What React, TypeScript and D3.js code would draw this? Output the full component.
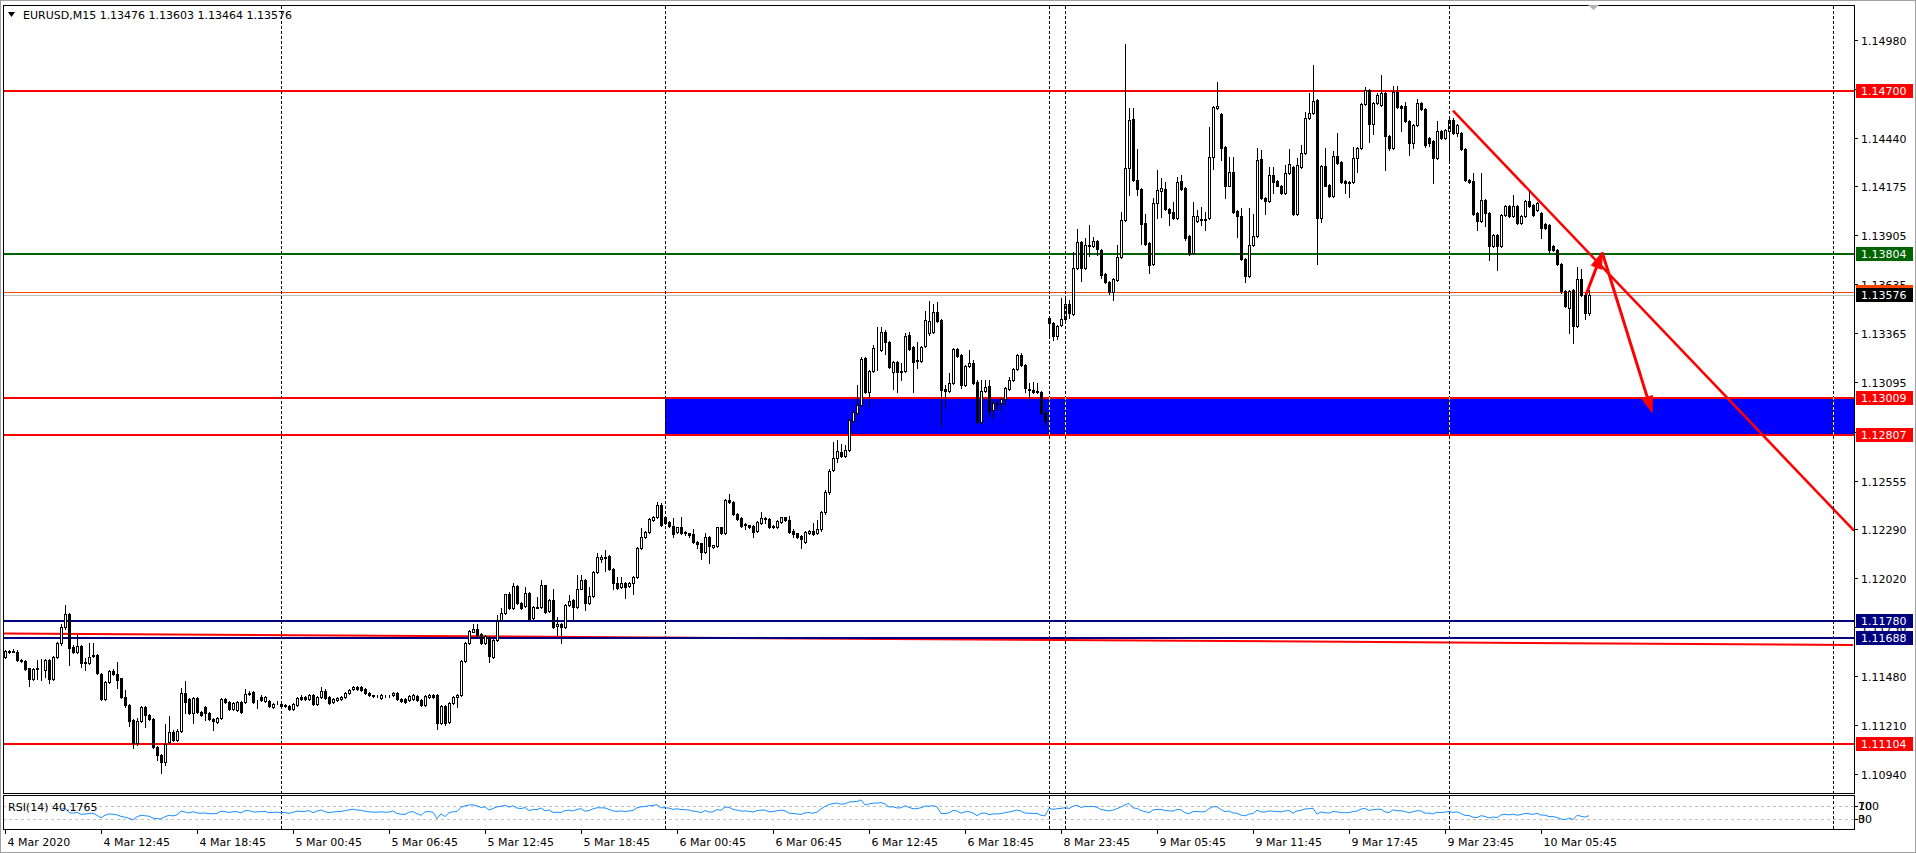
import * as d3 from 'd3';
import { useEffect, useRef } from 'react';

// EURUSD M15 bars, [open, high, low, close]
// 4 Mar 06:45 .. 23:45
const mar4 = [
  [1.11586,1.11623,1.11580,1.11619],[1.11619,1.11624,1.11608,1.11614],[1.11614,1.11626,1.11609,1.11619],[1.11614,1.11620,1.11564,1.11568],
  [1.11568,1.11572,1.11558,1.11562],[1.11564,1.11568,1.11512,1.11518],[1.11522,1.11526,1.11425,1.11463],[1.11465,1.11523,1.11459,1.11518],
  [1.11520,1.11568,1.11463,1.11522],[1.11522,1.11572,1.11458,1.11524],[1.11513,1.11572,1.11472,1.11568],[1.11568,1.11572,1.11439,1.11461],
  [1.11461,1.11588,1.11456,1.11582],[1.11582,1.11668,1.11576,1.11659],[1.11659,1.11765,1.11652,1.11748],[1.11748,1.11870,1.11740,1.11821],
  [1.11821,1.11828,1.11540,1.11636],[1.11641,1.11648,1.11605,1.11610],[1.11614,1.11705,1.11608,1.11645],[1.11645,1.11650,1.11530,1.11549],
  [1.11552,1.11576,1.11513,1.11559],[1.11549,1.11659,1.11543,1.11586],[1.11590,1.11659,1.11586,1.11595],[1.11595,1.11600,1.11488,1.11494],
  [1.11491,1.11496,1.11345,1.11351],[1.11351,1.11453,1.11345,1.11448],[1.11447,1.11513,1.11442,1.11507],[1.11507,1.11516,1.11485,1.11491],
  [1.11491,1.11557,1.11412,1.11458],[1.11466,1.11471,1.11360,1.11366],[1.11366,1.11403,1.11311,1.11320],[1.11320,1.11325,1.11204,1.11234],
  [1.11237,1.11243,1.11081,1.11109],[1.11109,1.11249,1.11102,1.11234],[1.11234,1.11313,1.11228,1.11307],[1.11307,1.11312,1.11201,1.11265],
  [1.11265,1.11270,1.11235,1.11241],[1.11241,1.11247,1.11085,1.11091],[1.11091,1.11096,1.11017,1.11045],[1.11045,1.11050,1.10944,1.11008],
  [1.11008,1.11215,1.10990,1.11105],[1.11118,1.11260,1.11112,1.11173],[1.11173,1.11180,1.11120,1.11127],[1.11127,1.11185,1.11121,1.11179],
  [1.11179,1.11412,1.11173,1.11384],[1.11388,1.11453,1.11274,1.11338],[1.11355,1.11360,1.11272,1.11278],[1.11278,1.11363,1.11219,1.11357],
  [1.11357,1.11362,1.11274,1.11280],[1.11280,1.11286,1.11259,1.11265],[1.11311,1.11316,1.11237,1.11274],[1.11274,1.11279,1.11235,1.11241],
  [1.11241,1.11246,1.11182,1.11234],[1.11228,1.11253,1.11223,1.11247],[1.11247,1.11359,1.11241,1.11353],[1.11353,1.11360,1.11330,1.11335],
  [1.11338,1.11343,1.11293,1.11298],[1.11298,1.11335,1.11293,1.11329],[1.11292,1.11340,1.11287,1.11335],[1.11335,1.11340,1.11278,1.11283],
  [1.11338,1.11406,1.11333,1.11380],[1.11380,1.11395,1.11375,1.11388],[1.11390,1.11395,1.11330,1.11335],[1.11344,1.11350,1.11302,1.11340],
  [1.11366,1.11375,1.11342,1.11347],[1.11344,1.11370,1.11339,1.11362],[1.11342,1.11347,1.11309,1.11314],[1.11311,1.11330,1.11306,1.11325],
  [1.11329,1.11340,1.11324,1.11333],
];

const mar5 = [
  [1.11324,1.11329,1.11310,1.11314],[1.11316,1.11325,1.11311,1.11320],[1.11314,1.11319,1.11291,1.11296],[1.11300,1.11329,1.11295,1.11324],
  [1.11320,1.11365,1.11315,1.11360],[1.11366,1.11375,1.11346,1.11351],[1.11364,1.11369,1.11346,1.11351],[1.11355,1.11383,1.11350,1.11375],
  [1.11375,1.11380,1.11320,1.11325],[1.11325,1.11371,1.11320,1.11366],[1.11366,1.11417,1.11361,1.11397],[1.11397,1.11408,1.11355,1.11360],
  [1.11366,1.11371,1.11328,1.11333],[1.11338,1.11356,1.11333,1.11351],[1.11347,1.11365,1.11342,1.11360],[1.11355,1.11371,1.11350,1.11366],
  [1.11366,1.11389,1.11361,1.11384],[1.11388,1.11408,1.11383,1.11403],[1.11406,1.11426,1.11401,1.11421],[1.11421,1.11426,1.11401,1.11406],
  [1.11417,1.11422,1.11398,1.11403],[1.11406,1.11411,1.11379,1.11384],[1.11384,1.11389,1.11370,1.11375],[1.11373,1.11376,1.11366,1.11371],
  [1.11371,1.11374,1.11364,1.11369],[1.11357,1.11380,1.11352,1.11375],[1.11371,1.11376,1.11364,1.11369],[1.11369,1.11376,1.11364,1.11371],
  [1.11375,1.11393,1.11370,1.11388],[1.11384,1.11389,1.11348,1.11353],[1.11355,1.11360,1.11337,1.11342],[1.11351,1.11356,1.11333,1.11338],
  [1.11347,1.11374,1.11342,1.11369],[1.11351,1.11380,1.11346,1.11375],[1.11371,1.11376,1.11342,1.11347],[1.11347,1.11352,1.11315,1.11320],
  [1.11320,1.11376,1.11315,1.11371],[1.11366,1.11380,1.11361,1.11375],[1.11375,1.11380,1.11361,1.11366],[1.11375,1.11380,1.11186,1.11219],
  [1.11219,1.11319,1.11214,1.11314],[1.11314,1.11319,1.11210,1.11223],[1.11228,1.11334,1.11223,1.11329],[1.11329,1.11371,1.11324,1.11366],
  [1.11362,1.11380,1.11310,1.11375],[1.11375,1.11569,1.11370,1.11564],[1.11564,1.11664,1.11559,1.11659],[1.11659,1.11732,1.11654,1.11727],
  [1.11724,1.11766,1.11719,1.11738],[1.11738,1.11766,1.11700,1.11705],[1.11711,1.11716,1.11654,1.11659],[1.11659,1.11705,1.11654,1.11700],
  [1.11696,1.11701,1.11559,1.11590],[1.11586,1.11683,1.11581,1.11678],[1.11678,1.11815,1.11673,1.11784],[1.11787,1.11851,1.11782,1.11824],
  [1.11824,1.11933,1.11819,1.11928],[1.11928,1.11943,1.11846,1.11851],[1.11851,1.11989,1.11846,1.11974],[1.11974,1.11979,1.11874,1.11879],
  [1.11879,1.11884,1.11850,1.11855],[1.11864,1.11971,1.11859,1.11934],[1.11934,1.11939,1.11788,1.11793],[1.11796,1.11862,1.11791,1.11857],
  [1.11861,1.11916,1.11852,1.11855],[1.11861,1.12007,1.11856,1.11978],[1.11978,1.11983,1.11828,1.11833],[1.11838,1.11902,1.11833,1.11897],
  [1.11897,1.11961,1.11745,1.11750],[1.11754,1.11805,1.11705,1.11765],[1.11765,1.11770,1.11659,1.11747],[1.11750,1.11875,1.11745,1.11870],
  [1.11870,1.11925,1.11865,1.11892],[1.11897,1.11902,1.11787,1.11857],[1.11861,1.12035,1.11856,1.11961],[1.11961,1.12035,1.11956,1.12007],
  [1.12007,1.12012,1.11842,1.11883],[1.11883,1.11971,1.11878,1.11919],[1.11921,1.12056,1.11916,1.12051],[1.12053,1.12154,1.12048,1.12136],
  [1.12125,1.12145,1.12108,1.12132],[1.12136,1.12172,1.12059,1.12127],[1.12139,1.12144,1.12061,1.12066],[1.12070,1.12075,1.11961,1.11989],
  [1.11989,1.12026,1.11960,1.11965],[1.11967,1.12026,1.11962,1.11993],[1.11993,1.11998,1.11906,1.11971],[1.11976,1.11998,1.11971,1.11993],
  [1.11993,1.12031,1.11928,1.12026],[1.12026,1.12187,1.12021,1.12182],[1.12182,1.12292,1.12177,1.12246],[1.12242,1.12277,1.12237,1.12272],
  [1.12273,1.12348,1.12268,1.12343],[1.12338,1.12361,1.12333,1.12356],[1.12356,1.12439,1.12351,1.12420],[1.12420,1.12429,1.12305,1.12310],
];

const mar6 = [
  [1.12352,1.12357,1.12318,1.12323],[1.12325,1.12330,1.12301,1.12306],[1.12306,1.12347,1.12246,1.12259],[1.12270,1.12302,1.12265,1.12297],
  [1.12297,1.12352,1.12263,1.12268],[1.12272,1.12277,1.12255,1.12264],[1.12264,1.12269,1.12246,1.12255],[1.12259,1.12286,1.12210,1.12215],
  [1.12216,1.12221,1.12182,1.12205],[1.12209,1.12214,1.12121,1.12163],[1.12163,1.12264,1.12158,1.12246],[1.12246,1.12251,1.12103,1.12194],
  [1.12191,1.12203,1.12186,1.12198],[1.12194,1.12302,1.12189,1.12297],[1.12297,1.12302,1.12263,1.12268],[1.12268,1.12453,1.12263,1.12448],
  [1.12448,1.12480,1.12430,1.12435],[1.12435,1.12440,1.12366,1.12371],[1.12371,1.12376,1.12338,1.12343],[1.12347,1.12352,1.12301,1.12306],
  [1.12314,1.12319,1.12286,1.12308],[1.12308,1.12313,1.12296,1.12301],[1.12306,1.12311,1.12246,1.12273],[1.12279,1.12333,1.12274,1.12328],
  [1.12323,1.12380,1.12318,1.12347],[1.12343,1.12356,1.12319,1.12350],[1.12343,1.12348,1.12292,1.12297],[1.12297,1.12310,1.12292,1.12305],
  [1.12297,1.12339,1.12292,1.12334],[1.12328,1.12357,1.12323,1.12352],[1.12352,1.12357,1.12333,1.12338],[1.12338,1.12360,1.12265,1.12270],
  [1.12277,1.12286,1.12246,1.12259],[1.12264,1.12269,1.12241,1.12246],[1.12250,1.12255,1.12182,1.12231],[1.12218,1.12277,1.12213,1.12272],
  [1.12268,1.12284,1.12263,1.12279],[1.12279,1.12319,1.12256,1.12261],[1.12264,1.12338,1.12259,1.12286],[1.12286,1.12390,1.12275,1.12380],
  [1.12380,1.12505,1.12370,1.12490],[1.12490,1.12620,1.12480,1.12610],[1.12613,1.12769,1.12605,1.12677],[1.12677,1.12778,1.12659,1.12718],
  [1.12714,1.12756,1.12685,1.12690],[1.12692,1.12751,1.12687,1.12723],[1.12723,1.12898,1.12718,1.12888],[1.12885,1.12936,1.12880,1.12931],
  [1.12929,1.13081,1.12924,1.12969],[1.12969,1.13237,1.12964,1.13224],[1.13228,1.13237,1.13039,1.13044],[1.13044,1.13165,1.12967,1.13160],
  [1.13160,1.13301,1.13155,1.13283],[1.13283,1.13402,1.13164,1.13285],[1.13274,1.13402,1.13269,1.13371],[1.13371,1.13384,1.13252,1.13316],
  [1.13316,1.13321,1.13173,1.13182],[1.13154,1.13211,1.13059,1.13206],[1.13206,1.13211,1.13044,1.13151],[1.13154,1.13200,1.13108,1.13160],
  [1.13158,1.13365,1.13153,1.13351],[1.13356,1.13375,1.13272,1.13277],[1.13288,1.13293,1.13044,1.13209],[1.13217,1.13319,1.13173,1.13211],
  [1.13215,1.13297,1.13209,1.13292],[1.13297,1.13488,1.13292,1.13439],[1.13365,1.13542,1.13356,1.13435],[1.13371,1.13525,1.13366,1.13481],
  [1.13481,1.13540,1.13430,1.13435],[1.13439,1.13444,1.12857,1.13053],[1.13059,1.13080,1.12953,1.13048],[1.13048,1.13145,1.13043,1.13094],
  [1.13090,1.13283,1.13085,1.13277],[1.13281,1.13286,1.13236,1.13241],[1.13246,1.13251,1.13063,1.13081],[1.13081,1.13191,1.13076,1.13186],
  [1.13186,1.13274,1.13182,1.13200],[1.13204,1.13219,1.13089,1.13094],[1.13096,1.13108,1.12874,1.12879],[1.12879,1.13108,1.12874,1.13048],
  [1.13048,1.13108,1.13043,1.13070],[1.13075,1.13108,1.12907,1.12939],[1.12943,1.12998,1.12898,1.12980],[1.12976,1.12998,1.12943,1.12982],
  [1.12980,1.13009,1.12943,1.13004],[1.13004,1.13068,1.12971,1.13063],[1.13059,1.13127,1.13054,1.13108],[1.13108,1.13173,1.13103,1.13167],
  [1.13167,1.13251,1.13162,1.13246],[1.13246,1.13255,1.13186,1.13191],[1.13191,1.13196,1.13044,1.13063],[1.13061,1.13090,1.12998,1.13053],
  [1.13053,1.13099,1.13039,1.13044],[1.13048,1.13090,1.13036,1.13041],[1.13041,1.13046,1.12920,1.12925],[1.12925,1.12943,1.12861,1.12885],
];

// Sunday open, 8 Mar 23:00 .. 23:45
const mar8 = [
  [1.13448,1.13461,1.13338,1.13420],[1.13424,1.13429,1.13329,1.13351],[1.13351,1.13413,1.13332,1.13408],[1.13409,1.13558,1.13404,1.13446],
];

const mar9 = [
  [1.13446,1.13558,1.13441,1.13525],[1.13527,1.13549,1.13448,1.13475],[1.13470,1.13815,1.13465,1.13727],[1.13727,1.13940,1.13722,1.13867],
  [1.13867,1.13872,1.13654,1.13727],[1.13723,1.13889,1.13718,1.13852],[1.13852,1.13962,1.13793,1.13846],[1.13848,1.13895,1.13843,1.13874],
  [1.13874,1.13879,1.13797,1.13830],[1.13824,1.13829,1.13672,1.13687],[1.13690,1.13695,1.13641,1.13646],[1.13650,1.13655,1.13580,1.13595],
  [1.13595,1.13670,1.13549,1.13665],[1.13661,1.13852,1.13656,1.13784],[1.13784,1.14035,1.13779,1.13989],[1.13989,1.14958,1.13984,1.14274],
  [1.14274,1.14604,1.14127,1.14538],[1.14544,1.14608,1.14203,1.14208],[1.14208,1.14380,1.14127,1.14158],[1.14158,1.14163,1.13856,1.13969],
  [1.13971,1.14021,1.13852,1.13857],[1.13861,1.13866,1.13696,1.13742],[1.13745,1.14109,1.13740,1.14081],[1.14081,1.14265,1.13999,1.14155],
  [1.14151,1.14223,1.14004,1.14164],[1.14160,1.14201,1.14043,1.14048],[1.14048,1.14053,1.13962,1.14030],[1.14032,1.14090,1.13997,1.14002],
  [1.13999,1.14228,1.13994,1.14201],[1.14204,1.14237,1.14155,1.14160],[1.14164,1.14169,1.13880,1.13892],[1.13901,1.13906,1.13796,1.13801],
  [1.13806,1.14090,1.13801,1.14012],[1.13986,1.14045,1.13981,1.14012],[1.13995,1.14063,1.13962,1.13989],[1.13989,1.14035,1.13934,1.13995],
  [1.14002,1.14503,1.13997,1.14336],[1.14336,1.14617,1.14270,1.14612],[1.14604,1.14751,1.14599,1.14617],[1.14571,1.14576,1.14322,1.14384],
  [1.14391,1.14396,1.14109,1.14179],[1.14179,1.14338,1.14174,1.14256],[1.14256,1.14338,1.14030,1.14035],[1.14041,1.14046,1.13894,1.14012],
  [1.14013,1.14054,1.13768,1.13773],[1.13775,1.13780,1.13650,1.13683],[1.13683,1.14054,1.13678,1.13852],[1.13852,1.14021,1.13847,1.13903],
  [1.13903,1.14384,1.13898,1.14320],[1.14323,1.14375,1.14104,1.14109],[1.14112,1.14117,1.14021,1.14096],[1.14096,1.14279,1.14091,1.14237],
  [1.14237,1.14283,1.14140,1.14201],[1.14204,1.14209,1.14174,1.14179],[1.14179,1.14184,1.14131,1.14136],[1.14140,1.14292,1.14135,1.14246],
  [1.14246,1.14379,1.14241,1.14296],[1.14283,1.14288,1.14016,1.14021],[1.14024,1.14329,1.14019,1.14292],[1.14283,1.14402,1.14278,1.14358],
  [1.14357,1.14586,1.14352,1.14549],[1.14549,1.14690,1.14544,1.14577],[1.14577,1.14843,1.14572,1.14645],[1.14650,1.14655,1.13745,1.13999],
  [1.13999,1.14292,1.13980,1.14287],[1.14287,1.14384,1.14174,1.14179],[1.14182,1.14187,1.14118,1.14123],[1.14123,1.14369,1.14118,1.14342],
  [1.14342,1.14467,1.14296,1.14301],[1.14311,1.14316,1.14191,1.14201],[1.14204,1.14209,1.14136,1.14195],[1.14191,1.14206,1.14118,1.14201],
  [1.14197,1.14390,1.14192,1.14329],[1.14329,1.14389,1.14256,1.14384],[1.14384,1.14631,1.14379,1.14626],[1.14626,1.14724,1.14621,1.14705],
  [1.14705,1.14710,1.14421,1.14516],[1.14518,1.14640,1.14460,1.14633],[1.14633,1.14690,1.14628,1.14679],[1.14624,1.14789,1.14619,1.14689],
  [1.14689,1.14694,1.14266,1.14450],[1.14450,1.14455,1.14375,1.14386],[1.14386,1.14729,1.14381,1.14694],[1.14694,1.14725,1.14606,1.14611],
  [1.14615,1.14620,1.14477,1.14606],[1.14615,1.14637,1.14528,1.14533],[1.14533,1.14538,1.14349,1.14413],[1.14413,1.14519,1.14386,1.14514],
  [1.14514,1.14655,1.14509,1.14633],[1.14633,1.14638,1.14595,1.14600],[1.14600,1.14605,1.14391,1.14404],[1.14441,1.14446,1.14399,1.14413],
  [1.14422,1.14427,1.14193,1.14331],[1.14331,1.14533,1.14326,1.14477],[1.14477,1.14482,1.14436,1.14441],[1.14441,1.14492,1.14436,1.14487],
];

// 10 Mar 00:00 .. 08:45
const mar10 = [
  [1.14477,1.14547,1.14322,1.14542],[1.14542,1.14551,1.14463,1.14468],[1.14468,1.14519,1.14450,1.14514],[1.14468,1.14473,1.14375,1.14380],
  [1.14380,1.14385,1.14202,1.14208],[1.14208,1.14213,1.14192,1.14197],[1.14202,1.14248,1.14019,1.14024],[1.14028,1.14033,1.13936,1.13982],
  [1.13982,1.14248,1.13977,1.14101],[1.14101,1.14106,1.13958,1.14028],[1.14028,1.14033,1.13771,1.13844],[1.13844,1.13914,1.13839,1.13909],
  [1.13909,1.13914,1.13716,1.13844],[1.13844,1.14022,1.13839,1.14017],[1.14017,1.14070,1.14012,1.14065],[1.14065,1.14070,1.14005,1.14010],
  [1.14010,1.14129,1.14005,1.14065],[1.14065,1.14070,1.13968,1.13973],[1.13973,1.14015,1.13968,1.14010],[1.14010,1.14097,1.14005,1.14092],
  [1.14092,1.14147,1.14060,1.14065],[1.14070,1.14075,1.14010,1.14015],[1.14046,1.14088,1.14041,1.14083],[1.14028,1.14033,1.13890,1.13945],
  [1.13969,1.13974,1.13940,1.13945],[1.13964,1.13969,1.13808,1.13826],[1.13844,1.13849,1.13821,1.13826],[1.13826,1.13831,1.13744,1.13749],
  [1.13749,1.13754,1.13588,1.13597],[1.13600,1.13605,1.13509,1.13514],[1.13505,1.13605,1.13367,1.13600],[1.13606,1.13611,1.13312,1.13404],
  [1.13404,1.13731,1.13399,1.13665],[1.13665,1.13720,1.13573,1.13578],[1.13578,1.13583,1.13444,1.13477],[1.13476,1.13603,1.13464,1.13576],
];

const timeLabels = ['4 Mar 2020', '4 Mar 12:45', '4 Mar 18:45', '5 Mar 00:45', '5 Mar 06:45', '5 Mar 12:45', '5 Mar 18:45',
  '6 Mar 00:45', '6 Mar 06:45', '6 Mar 12:45', '6 Mar 18:45', '8 Mar 23:45', '9 Mar 05:45', '9 Mar 11:45', '9 Mar 17:45',
  '9 Mar 23:45', '10 Mar 05:45'];
const timeLabelBars = [0, 24, 48, 72, 96, 120, 144, 168, 192, 216, 240, 264, 288, 312, 336, 360, 384];
const daySeparatorBars = [69, 165, 261, 265, 361, 457];
const priceTicks = [1.14980, 1.14710, 1.14440, 1.14175, 1.13905, 1.13635, 1.13365, 1.13095, 1.12825, 1.12555,
  1.12290, 1.12020, 1.11750, 1.11480, 1.11210, 1.10940];

const redLevels = [1.14700, 1.13009, 1.12807, 1.11104];
const navyLevels = [1.11780, 1.11688];
const greenLevels = [1.13804];
const orangeLevel = 1.13595;
const bidPrice = 1.13576;
const zone = { startBar: 165, top: 1.13015, bottom: 1.12807 };
const trendLine = [[362, 1.14591], [462, 1.12285]];
const supportLine = [[0, 1.11714], [462, 1.11650]];
const arrowUp = [[395.25, 1.13578], [399.3, 1.13811]];
const arrowDown = [[399.3, 1.13811], [411.75, 1.12930]];
const rsiLevels = [70, 30];
const rsiAxisValues = [100, 70, 30, 0];
const headerText = 'EURUSD,M15  1.13476 1.13603 1.13464 1.13576';
const rsiText = 'RSI(14) 40.1765';

const W = 1916;
const H = 853;
const FONT = '"DejaVu Sans", Tahoma, sans-serif';

const App = () => {
  const ref = useRef<SVGSVGElement>(null);

  useEffect(() => {
    if (!ref.current) return;
    const svg = d3.select(ref.current);
    svg.selectAll('*').remove();

    const bars = [...mar4, ...mar5, ...mar6, ...mar8, ...mar9, ...mar10];
    const left = 3, right = 1854, top = 5, bottom = 793;
    const rsiTop = 795, rsiBottom = 829;

    const x = d3.scaleLinear().domain([0, 396]).range([5, 1589]);
    const y = d3.scaleLinear().domain([1.10940, 1.14980]).range([774, 40]);
    const ry = d3.scaleLinear().domain([0, 100]).range([rsiBottom, rsiTop + 1]);
    const fmt = d3.format('.5f');
    const px = (v: number) => Math.round(v) + 0.5;

    svg.append('rect').attr('width', W).attr('height', H).attr('fill', '#fff');
    svg.append('rect').attr('x', 0.5).attr('y', 0.5).attr('width', W - 1).attr('height', H - 1)
      .attr('fill', 'none').attr('stroke', '#a0a0a0');

    const defs = svg.append('defs');
    defs.append('clipPath').attr('id', 'main-clip').append('rect')
      .attr('x', left + 1).attr('y', top + 1).attr('width', right - left - 1).attr('height', bottom - top - 1);
    defs.append('clipPath').attr('id', 'rsi-clip').append('rect')
      .attr('x', left + 1).attr('y', rsiTop + 1).attr('width', right - left - 1).attr('height', rsiBottom - rsiTop - 1);

    const main = svg.append('g').attr('clip-path', 'url(#main-clip)').attr('shape-rendering', 'crispEdges');

    // zone
    const zoneX = x(zone.startBar);
    main.append('rect').attr('x', zoneX).attr('y', y(zone.top))
      .attr('width', right - zoneX).attr('height', y(zone.bottom) - y(zone.top)).attr('fill', '#0000ff');

    // sloped red support line (under navy lines)
    main.append('line')
      .attr('x1', left).attr('y1', y(supportLine[0][1]) + (left - x(supportLine[0][0])) * 0)
      .attr('x2', x(supportLine[1][0])).attr('y2', y(supportLine[1][1]))
      .attr('stroke', '#ff0000').attr('stroke-width', 2).attr('shape-rendering', 'auto');

    const hline = (p: number, color: string, w: number) =>
      main.append('line').attr('x1', left).attr('x2', right).attr('y1', Math.round(y(p))).attr('y2', Math.round(y(p)))
        .attr('stroke', color).attr('stroke-width', w);

    redLevels.forEach(p => hline(p, '#ff0000', 2));
    greenLevels.forEach(p => hline(p, '#006400', 2));
    navyLevels.forEach(p => hline(p, '#000080', 2));
    main.append('line').attr('x1', left).attr('x2', right).attr('y1', px(y(orangeLevel))).attr('y2', px(y(orangeLevel)))
      .attr('stroke', '#ff4500').attr('stroke-width', 1);
    main.append('line').attr('x1', left).attr('x2', right).attr('y1', px(y(bidPrice))).attr('y2', px(y(bidPrice)))
      .attr('stroke', '#c0c0c0').attr('stroke-width', 1);

    // day separators
    daySeparatorBars.forEach(b => {
      const sx = px(x(b));
      svg.append('line').attr('x1', sx).attr('x2', sx).attr('y1', top + 1).attr('y2', rsiBottom)
        .attr('stroke', '#000').attr('stroke-dasharray', '3,2').attr('shape-rendering', 'crispEdges');
      if (x(b) > zoneX + 2) {
        svg.append('line').attr('x1', sx).attr('x2', sx).attr('y1', y(zone.top)).attr('y2', y(zone.bottom))
          .attr('stroke', '#ffff00').attr('stroke-dasharray', '3,2').attr('shape-rendering', 'crispEdges');
      }
    });

    // trend line
    const slope = (y(trendLine[1][1]) - y(trendLine[0][1])) / (x(trendLine[1][0]) - x(trendLine[0][0]));
    main.append('line')
      .attr('x1', x(trendLine[0][0])).attr('y1', y(trendLine[0][1]))
      .attr('x2', right).attr('y2', y(trendLine[0][1]) + slope * (right - x(trendLine[0][0])))
      .attr('stroke', '#ff0000').attr('stroke-width', 2.5).attr('shape-rendering', 'auto');

    // arrows
    const drawArrow = (pts: number[][]) => {
      const x1 = x(pts[0][0]), y1 = y(pts[0][1]), x2 = x(pts[1][0]), y2 = y(pts[1][1]);
      const ang = Math.atan2(y2 - y1, x2 - x1);
      const len = 16, half = 5.5;
      const bx = x2 - Math.cos(ang) * len, by = y2 - Math.sin(ang) * len;
      main.append('line').attr('x1', x1).attr('y1', y1).attr('x2', bx).attr('y2', by)
        .attr('stroke', '#ff0000').attr('stroke-width', 3).attr('shape-rendering', 'auto');
      const nx = -Math.sin(ang) * half, ny = Math.cos(ang) * half;
      main.append('path')
        .attr('d', `M${x2},${y2}L${bx + nx},${by + ny}L${bx - nx},${by - ny}Z`)
        .attr('fill', '#ff0000').attr('stroke', '#ff0000').attr('stroke-width', 1).attr('shape-rendering', 'auto');
    };
    drawArrow(arrowUp);
    drawArrow(arrowDown);

    // candles
    const cg = main.append('g');
    bars.forEach((b, i) => {
      const [o, h, l, c] = b;
      const cx = Math.round(x(i));
      cg.append('line').attr('x1', cx + 0.5).attr('x2', cx + 0.5)
        .attr('y1', Math.round(y(h))).attr('y2', Math.round(y(l)) + 1).attr('stroke', '#000');
      const t = Math.round(y(Math.max(o, c)));
      const bt = Math.round(y(Math.min(o, c)));
      cg.append('rect').attr('x', cx - 0.5).attr('y', t + 0.5).attr('width', 2).attr('height', Math.max(bt - t, 0))
        .attr('fill', c >= o ? '#fff' : '#000').attr('stroke', '#000').attr('stroke-width', 1);
    });

    // frames
    svg.append('rect').attr('x', left + 0.5).attr('y', top + 0.5).attr('width', right - left).attr('height', bottom - top)
      .attr('fill', 'none').attr('stroke', '#000').attr('shape-rendering', 'crispEdges');
    svg.append('rect').attr('x', left + 0.5).attr('y', rsiTop + 0.5).attr('width', right - left).attr('height', rsiBottom - rsiTop)
      .attr('fill', 'none').attr('stroke', '#000').attr('shape-rendering', 'crispEdges');

    // header
    svg.append('path').attr('d', 'M8,12L15,12L11.5,17Z').attr('fill', '#000');
    svg.append('text').attr('x', 23).attr('y', 19).attr('font-family', FONT).attr('font-size', 11)
      .attr('fill', '#000').text(headerText);
    svg.append('path').attr('d', 'M1588,5L1599,5L1593.5,10Z').attr('fill', '#b4b4b4');

    // price axis
    const axis = svg.append('g').attr('font-family', FONT).attr('font-size', 11);
    priceTicks.forEach(p => {
      const ty = Math.round(y(p)) + 0.5;
      axis.append('line').attr('x1', right).attr('x2', right + 4).attr('y1', ty).attr('y2', ty)
        .attr('stroke', '#000').attr('shape-rendering', 'crispEdges');
      axis.append('text').attr('x', 1861).attr('y', ty + 4).attr('fill', '#000').text(fmt(p));
    });

    const tag = (p: number, bg: string) => {
      const ty = Math.round(y(p));
      axis.append('rect').attr('x', 1856).attr('y', ty - 7).attr('width', 57).attr('height', 14).attr('fill', bg);
      axis.append('text').attr('x', 1861).attr('y', ty + 4).attr('fill', '#fff').text(fmt(p));
    };
    tag(orangeLevel, '#ff4500');
    redLevels.forEach(p => tag(p, '#ff0000'));
    greenLevels.forEach(p => tag(p, '#006400'));
    navyLevels.forEach(p => tag(p, '#000080'));
    tag(bidPrice, '#000000');

    // RSI(14)
    const closes = bars.map(b => b[3]);
    const rsi: [number, number][] = [];
    let ag = 0, al = 0;
    for (let i = 1; i < closes.length; i++) {
      const d = closes[i] - closes[i - 1];
      const g = Math.max(d, 0), ls = Math.max(-d, 0);
      if (i <= 14) { ag = (ag * (i - 1) + g) / i; al = (al * (i - 1) + ls) / i; }
      else { ag = (ag * 13 + g) / 14; al = (al * 13 + ls) / 14; }
      if (i >= 14) rsi.push([i, al === 0 ? 100 : 100 - 100 / (1 + ag / al)]);
    }
    const rg = svg.append('g').attr('clip-path', 'url(#rsi-clip)');
    rsiLevels.forEach(v => {
      rg.append('line').attr('x1', left).attr('x2', right).attr('y1', px(ry(v))).attr('y2', px(ry(v)))
        .attr('stroke', '#c0c0c0').attr('stroke-dasharray', '3,3').attr('shape-rendering', 'crispEdges');
    });
    rg.append('path').datum(rsi)
      .attr('d', d3.line<[number, number]>().x(d => x(d[0])).y(d => ry(d[1])))
      .attr('fill', 'none').attr('stroke', '#1e90ff').attr('stroke-width', 1);
    svg.append('text').attr('x', 8).attr('y', 811).attr('font-family', FONT).attr('font-size', 11)
      .attr('fill', '#000').text(rsiText);
    rsiAxisValues.forEach(v => {
      const ty = Math.min(Math.max(ry(v), ry(70)), ry(30));
      axis.append('line').attr('x1', right).attr('x2', right + 4).attr('y1', px(ty)).attr('y2', px(ty))
        .attr('stroke', '#000').attr('shape-rendering', 'crispEdges');
      axis.append('text').attr('x', 1858).attr('y', ty + 4).attr('fill', '#000').text(String(v));
    });

    // time axis
    timeLabels.forEach((lab, k) => {
      const tx = px(x(timeLabelBars[k]));
      axis.append('line').attr('x1', tx).attr('x2', tx).attr('y1', rsiBottom).attr('y2', rsiBottom + 5)
        .attr('stroke', '#000').attr('shape-rendering', 'crispEdges');
      axis.append('text').attr('x', tx + 2).attr('y', 846).attr('fill', '#000').text(lab);
    });
  }, []);

  return <svg ref={ref} width={W} height={H} style={{ position: 'fixed', left: 0, top: 0 }} />;
};

export default App;
